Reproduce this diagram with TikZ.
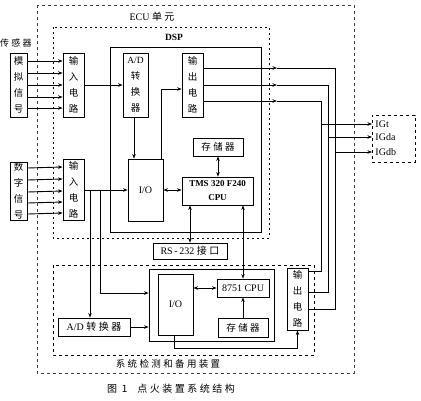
\documentclass[tikz,border=0pt]{standalone}
\usepackage{fontspec}
\setmainfont{Liberation Serif}
\newfontfamily\cjk{Noto Sans CJK SC}[LetterSpace=25]
\usetikzlibrary{arrows.meta,calc}
\begin{document}
\begin{tikzpicture}[x=1pt,y=-1pt, line width=0.9pt,
  box/.style={draw, inner sep=0pt, align=center, font=\fontsize{10}{15}\selectfont},
  vbox/.style={box, font=\fontsize{9.5}{16}\selectfont\cjk},
  arr/.style={-{Stealth[length=4.5pt,width=3.5pt]}},
  darr/.style={{Stealth[length=4.5pt,width=3.5pt]}-{Stealth[length=4.5pt,width=3.5pt]}},
  ecu/.style={draw=black!75, line width=0.6pt, dash pattern=on 3pt off 3pt},
  ecuin/.style={draw, line width=1pt, dash pattern=on 2pt off 3pt},
  dbox/.style={draw, line width=0.7pt, dash pattern=on 3pt off 3pt},
  lbl/.style={font=\fontsize{10}{11}\selectfont, inner sep=0pt}
]
\useasboundingbox (0,0) rectangle (421,400);

% frames
\draw[ecu] (37,5) rectangle (354,373);
\draw[ecuin] (53,27) rectangle (269,238);
\draw (110,47) rectangle (261,232);
\draw[dbox] (53,265) rectangle (314,355);

\node[lbl] (ecul) at (152,17) {ECU {\cjk 单元}};
\node[lbl, font=\fontsize{9.5}{11}\bfseries] (dspl) at (174,37) {DSP};
\node[lbl, font=\fontsize{9}{11}\selectfont\cjk] (sensl) at (16,43) {传感器};

% blocks
\node[vbox, minimum width=17pt, minimum height=64pt] (sens1) at (18.5,85) {模\\拟\\信\\号};
\node[vbox, minimum width=21pt, minimum height=64pt] (in1) at (73.5,85) {输\\入\\电\\路};
\node[box, font=\fontsize{9.5}{16}\selectfont, minimum width=25pt, minimum height=64pt] (ad1) at (135.5,85) {A/D\\{\cjk 转}\\{\cjk 换}\\{\cjk 器}};
\node[vbox, minimum width=21pt, minimum height=64pt] (out1) at (192.5,85) {输\\出\\电\\路};
\node[box, font=\fontsize{9.5}{11}\selectfont\cjk, minimum width=50pt, minimum height=18pt] (mem1) at (218,147) {存储器};
\node[box, minimum width=35pt, minimum height=62pt] (io1) at (145.5,190) {I/O};
\node[box, font=\fontsize{9}{14}\selectfont\bfseries, minimum width=71pt, minimum height=28pt] (tms) at (217.5,191) {TMS 320 F240\\CPU};
\node[vbox, minimum width=17pt, minimum height=58pt] (sens2) at (18.5,191) {数\\字\\信\\号};
\node[vbox, minimum width=21pt, minimum height=61pt] (in2) at (73.5,190) {输\\入\\电\\路};
\node[box, minimum width=74pt, minimum height=16pt] (rs) at (190,251) {RS\,-\,232 {\cjk 接口}};

\node[draw, inner sep=0pt, minimum width=125pt, minimum height=72pt] (bigbox) at (211.5,305) {};
\node[box, minimum width=35pt, minimum height=61pt] (io2) at (175.5,304.5) {I/O};
\node[box, minimum width=52pt, minimum height=18pt] (cpu2) at (243,288) {8751 CPU};
\node[box, font=\fontsize{9.5}{11}\selectfont\cjk, minimum width=50pt, minimum height=19pt] (mem2) at (243,327.5) {存储器};
\node[box, minimum width=72pt, minimum height=18pt] (ad2) at (94,327) {A/D {\cjk 转换器}};
\node[vbox, minimum width=21pt, minimum height=62pt] (out2) at (297.5,299) {输\\出\\电\\路};

\node[dbox, inner sep=0pt, minimum width=43pt, minimum height=47pt] (igbox) at (393.5,138.5) {};
\node[lbl, anchor=west] (igt) at (375,124) {IGt};
\node[lbl, anchor=west] (igda) at (375,137) {IGda};
\node[lbl, anchor=west] (igdb) at (375,152) {IGdb};

% sensor arrows
\foreach \d in {24,12,0,-12,-23}
  \draw[arr] ([yshift=\d pt]sens1.east) -- ([yshift=\d pt]in1.west);
\foreach \d in {23,11,-1,-12,-23}
  \draw[arr] ([yshift=\d pt]sens2.east) -- ([yshift=\d pt]in2.west);

% DSP internal
\draw[arr] (in1.east) -- (ad1.west);
\draw[arr] ([xshift=-1.5pt]ad1.south) -- ([xshift=-1.5pt]ad1.south |- io1.north);
\draw[arr] ([xshift=-2.5pt]io1.north east) |- ([yshift=-4pt]out1.west);
\draw[darr] (io1.east) -- (io1.east -| tms.west);
\draw[darr] (mem1.south) -- (mem1.south |- tms.north);

% outputs
\coordinate (m1) at (277,68);  \coordinate (c1) at (335,68);  \coordinate (d1) at (335,309);
\coordinate (m2) at (277,85);  \coordinate (c2) at (328,85);  \coordinate (d2) at (328,292);
\coordinate (m3) at (277,101); \coordinate (c3) at (321,101); \coordinate (d3) at (321,271);
\draw[arr] ([yshift=17pt]out1.east) -- (m1);
\draw[arr] (out1.east) -- (m2);
\draw[arr] ([yshift=-16pt]out1.east) -- (m3);
\draw (m1) -- (c1) -- (d1) -- (d1 -| out2.east);
\draw (m2) -- (c2) -- (d2) -- (d2 -| out2.east);
\draw (m3) -- (c3) -- (d3) -- (d3 -| out2.east);
\coordinate (g1) at (372,124);
\coordinate (g2) at (372,137);
\coordinate (g3) at (372,152);
\draw[arr, line width=0.6pt] (g1 -| c3) -- (g1);
\draw[arr, line width=0.6pt] (g2 -| c2) -- (g2);
\draw[arr, line width=0.6pt] (g3 -| c1) -- (g3);

% digital input
\coordinate (j1) at (90,190);
\coordinate (j2) at (100,190);
\draw[arr] (in2.east) -- (io1.west);
\draw[arr] (j1) -- (j1 |- ad2.north);
\draw[arr] (j2) |- ([yshift=12pt]bigbox.west);
\draw[arr] (ad2.east) -- (ad2.east -| bigbox.west);

% links to backup
\draw[darr] (rs.north) -- (rs.north |- tms.south);
\draw[darr] (cpu2.north) -- (cpu2.north |- tms.south);
\draw[darr] (io2.east |- cpu2.west) -- (cpu2.west);
\draw[arr] (mem2.north) -- (mem2.north |- cpu2.south);
\draw[arr, line width=0.6pt] ([xshift=-1.5pt]io2.south) -- ++(0,13) -| (out2.south);

% captions
\node[lbl, font=\fontsize{9.5}{11}\selectfont\cjk] (sysl) at (168,364) {系统检测和备用装置};
\node[lbl, font=\fontsize{10}{11}\selectfont\cjk] (cap) at (171,389) {图 1\quad 点火装置系统结构};
\end{tikzpicture}
\end{document}
